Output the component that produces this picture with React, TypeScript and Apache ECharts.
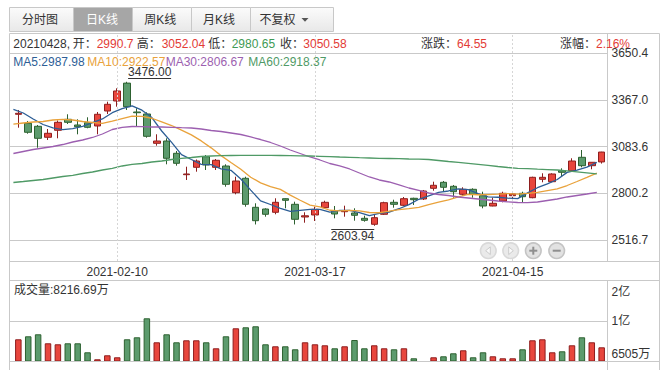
import { useEffect, useRef } from 'react';
import * as echarts from 'echarts';

const dates = ['2021-01-27','2021-01-28','2021-01-29','2021-02-01','2021-02-02','2021-02-03','2021-02-04','2021-02-05','2021-02-08','2021-02-09','2021-02-10','2021-02-18','2021-02-19','2021-02-22','2021-02-23','2021-02-24','2021-02-25','2021-02-26','2021-03-01','2021-03-02','2021-03-03','2021-03-04','2021-03-05','2021-03-08','2021-03-09','2021-03-10','2021-03-11','2021-03-12','2021-03-15','2021-03-16','2021-03-17','2021-03-18','2021-03-19','2021-03-22','2021-03-23','2021-03-24','2021-03-25','2021-03-26','2021-03-29','2021-03-30','2021-03-31','2021-04-01','2021-04-02','2021-04-06','2021-04-07','2021-04-08','2021-04-09','2021-04-12','2021-04-13','2021-04-14','2021-04-15','2021-04-16','2021-04-19','2021-04-20','2021-04-21','2021-04-22','2021-04-23','2021-04-26','2021-04-27','2021-04-28'];

// [open, close, low, high]
const candles: number[][] = [
  [3279.2, 3285.2, 3198.0, 3305.2], [3224.6, 3170.2, 3161.7, 3238.6], [3206.5, 3133.8, 3076.9, 3214.4],
  [3139.9, 3164.1, 3123.5, 3190.1], [3182.3, 3230.7, 3133.8, 3241.6], [3248.9, 3230.7, 3220.4, 3279.2],
  [3214.4, 3204.1, 3158.0, 3248.9], [3228.3, 3200.4, 3194.4, 3261.0], [3208.3, 3279.2, 3158.0, 3293.1],
  [3299.1, 3339.7, 3281.0, 3355.5], [3359.7, 3420.3, 3325.2, 3436.6], [3468.0, 3325.2, 3305.2, 3476.0],
  [3293.1, 3288.8, 3204.1, 3315.5], [3281.0, 3145.9, 3137.4, 3291.3], [3103.5, 3117.4, 3089.0, 3158.0],
  [3117.4, 3012.7, 2976.3, 3133.8], [3043.0, 2982.4, 2967.9, 3056.9], [2913.4, 2917.6, 2881.3, 2961.8],
  [2958.2, 2996.3, 2931.5, 3005.4], [3022.4, 2972.1, 2941.8, 3032.6], [2958.2, 3000.6, 2941.8, 3008.5],
  [2966.0, 2855.2, 2840.7, 2976.3], [2804.4, 2875.2, 2794.6, 2901.2], [2891.6, 2734.1, 2719.6, 2901.2],
  [2715.9, 2634.8, 2612.0, 2740.2], [2705.6, 2673.6, 2659.0, 2709.9], [2685.7, 2746.2, 2673.6, 2770.5],
  [2768.0, 2758.3, 2709.9, 2770.5], [2734.1, 2643.2, 2612.0, 2749.9], [2657.2, 2664.5, 2622.7, 2685.7],
  [2669.3, 2703.8, 2633.0, 2719.6], [2713.5, 2746.2, 2709.9, 2755.9], [2693.5, 2675.4, 2649.3, 2723.8],
  [2689.3, 2695.4, 2659.0, 2725.6], [2681.4, 2667.5, 2634.8, 2709.9], [2649.3, 2637.2, 2628.8, 2665.1],
  [2613.0, 2653.0, 2603.94, 2669.3], [2673.6, 2743.8, 2669.3, 2749.9], [2746.2, 2734.1, 2713.5, 2762.0],
  [2728.0, 2768.0, 2723.8, 2778.3], [2770.5, 2762.0, 2729.9, 2774.1], [2766.2, 2814.6, 2760.1, 2820.7],
  [2831.0, 2849.2, 2816.5, 2871.0], [2867.3, 2837.1, 2810.4, 2875.2], [2843.1, 2810.4, 2774.1, 2851.0],
  [2794.6, 2824.9, 2786.2, 2837.1], [2824.9, 2794.6, 2774.1, 2831.0], [2786.2, 2723.8, 2709.9, 2810.4],
  [2723.8, 2740.2, 2721.9, 2774.1], [2754.1, 2800.7, 2746.2, 2810.4], [2786.2, 2796.5, 2760.1, 2800.7],
  [2800.7, 2780.1, 2746.2, 2810.4], [2774.1, 2897.6, 2770.5, 2901.2], [2885.5, 2897.6, 2867.3, 2921.9],
  [2871.0, 2917.6, 2867.3, 2921.9], [2937.6, 2927.9, 2901.2, 2952.1], [2937.6, 2996.3, 2931.5, 3012.7],
  [3018.7, 2967.9, 2958.2, 3062.9], [2967.9, 2988.5, 2946.1, 2988.5], [2990.7, 3050.58, 2980.65, 3052.04],
];

const ma5 = [3309.4, 3287.0, 3250.7, 3217.4, 3196.8, 3185.9, 3192.7, 3206.0, 3229.0, 3250.8,
  3288.7, 3313.0, 3330.6, 3304.0, 3259.5, 3178.0, 3109.4, 3035.2, 3005.3, 2976.2,
  2973.8, 2948.4, 2939.9, 2887.4, 2820.0, 2754.6, 2732.8, 2709.4, 2691.2, 2697.2,
  2703.2, 2703.2, 2686.6, 2697.1, 2697.7, 2684.3, 2665.7, 2679.4, 2687.1, 2707.2,
  2732.2, 2764.5, 2785.6, 2806.2, 2814.7, 2827.2, 2823.2, 2798.2, 2778.8, 2776.8,
  2771.2, 2768.3, 2803.0, 2834.5, 2857.9, 2884.2, 2927.4, 2941.5, 2959.6, 2987.98];
const ma10 = [3219.2, 3226.5, 3232.5, 3235.5, 3244.6, 3248.9, 3244.6, 3235.5, 3229.5, 3223.8,
  3237.3, 3252.8, 3268.3, 3266.5, 3255.2, 3233.4, 3211.2, 3182.9, 3154.6, 3117.9,
  3075.9, 3028.9, 2987.5, 2946.4, 2898.1, 2864.2, 2840.6, 2824.6, 2789.3, 2758.6,
  2728.9, 2718.0, 2698.0, 2694.1, 2697.4, 2693.8, 2684.5, 2683.0, 2692.1, 2702.4,
  2708.3, 2715.1, 2732.5, 2746.7, 2760.9, 2779.7, 2793.9, 2791.9, 2792.5, 2795.8,
  2799.2, 2795.8, 2800.6, 2806.6, 2817.4, 2827.7, 2847.8, 2872.2, 2897.1, 2922.57];
const ma30 = [3041.8, 3053.9, 3066.0, 3075.1, 3084.1, 3096.2, 3111.4, 3123.5, 3138.7, 3159.9,
  3187.1, 3200.4, 3205.3, 3204.1, 3202.2, 3202.2, 3200.4, 3198.0, 3196.2, 3190.1,
  3181.0, 3175.0, 3165.9, 3156.8, 3141.7, 3126.5, 3108.4, 3087.2, 3063.0, 3041.8,
  3020.6, 3002.4, 2981.2, 2966.1, 2947.9, 2923.7, 2899.5, 2881.3, 2869.2, 2851.0,
  2832.8, 2817.7, 2802.6, 2793.5, 2787.4, 2778.4, 2772.3, 2766.2, 2760.2, 2754.1,
  2749.2, 2745.0, 2743.8, 2748.0, 2757.1, 2766.2, 2778.4, 2787.4, 2796.5, 2806.67];
const ma60 = [2866.1, 2872.1, 2878.2, 2884.3, 2893.4, 2902.4, 2909.7, 2920.6, 2929.7, 2941.8,
  2952.1, 2966.1, 2976.3, 2981.2, 2990.3, 2996.3, 3005.4, 3012.7, 3017.5, 3023.6,
  3026.6, 3028.4, 3029.6, 3030.8, 3030.8, 3030.8, 3030.2, 3029.6, 3029.0, 3027.8,
  3026.6, 3024.8, 3023.0, 3020.6, 3018.8, 3016.3, 3014.5, 3012.7, 3011.5, 3010.3,
  3008.5, 3007.2, 3005.4, 2999.4, 2993.3, 2988.5, 2982.4, 2976.3, 2970.3, 2963.0,
  2957.0, 2952.1, 2949.7, 2946.7, 2944.2, 2941.8, 2937.0, 2930.9, 2924.9, 2918.37];

// volume in 万
const volumes = [9218, 9593, 9843, 8718, 8593, 8718, 8718, 7593, 6718, 7218,
  6968, 9218, 9468, 11843, 8843, 9843, 8843, 9093, 9093, 8843,
  8093, 9593, 10593, 10718, 10843, 8593, 8343, 8343, 7968, 8843,
  8593, 8468, 8093, 8343, 9130, 8093, 8468, 8093, 7968, 8093,
  6843, 6543, 6968, 7093, 7468, 7843, 6968, 7593, 7093, 6843,
  6843, 7968, 9093, 9218, 7593, 7718, 8468, 9468, 8843, 8216.69];

const priceTicks = ['2516.7', '2800.2', '3083.6', '3367.0', '3650.4'];
const volTicks = ['6505万', '1亿', '2亿'];
const dateLabels = ['2021-02-10', '2021-03-17', '2021-04-15'];
const tabNames = ['分时图', '日K线', '周K线', '月K线', '不复权'];
const infoDate = '20210428,';
const infoLabels = ['开：', '高：', '低：', '收：', '涨跌：', '涨幅：'];
const infoValues = ['2990.7', '3052.04', '2980.65', '3050.58', '64.55', '2.16%'];
const infoTone = ['r', 'r', 'g', 'r', 'r', 'r'];
const maNames = ['MA5', 'MA10', 'MA30', 'MA60'];
const maLast = ['2987.98', '2922.57', '2806.67', '2918.37'];
const volumeLegend = '成交量:8216.69万';

const PRICE_MIN = 2390.7;
const PRICE_MAX = 3771.5;
const VOL_MIN = 6505;
const VOL_MAX = 16630;

const FONT_FAMILY = '"Liberation Sans", Arial, "Noto Sans CJK SC", sans-serif';
const F12 = `12px ${FONT_FAMILY}`;
const TEXT = '#333333';
const GRID = '#c9c9c9';
const UP = '#e8463d';
const UP_B = '#8e1e1e';
const DN = '#5c9b6d';
const DN_B = '#2d6130';
const RED_T = '#e33b36';
const GREEN_T = '#3f9a55';
const MA_COLORS = ['#2d5e96', '#e9a23b', '#9c5fb0', '#4f9a66'];

function txt(id: string, text: string, x: number, y: number, fill: string, align = 'left', extra: any = {}) {
  return {
    type: 'text', id, z: 100, silent: true,
    style: { text, x, y, fill, font: F12, fontSize: 12, fontFamily: FONT_FAMILY, align, verticalAlign: 'middle', textAlign: align, textVerticalAlign: 'middle', ...extra },
  };
}
function ln(id: string, x1: number, y1: number, x2: number, y2: number, stroke = GRID, extra: any = {}) {
  return { type: 'line', id, z: 90, silent: true, shape: { x1, y1, x2, y2 }, style: { stroke, lineWidth: 1, ...extra } };
}

function buildGraphic(hp: number[], hv: string, lp: number[], lv: string) {
  const g: any[] = [];
  // tabs
  const tabX = [9.5, 73.5, 132.5, 191.5, 250.5, 333.5];
  const tabTextX = [40, 102, 160.3, 219, 277.5];
  tabNames.forEach((name, i) => {
    const sel = i === 1;
    g.push({
      type: 'rect', id: 'tab' + i, z: 80, silent: true,
      shape: { x: tabX[i], y: 7.5, width: tabX[i + 1] - tabX[i], height: 24 },
      style: {
        fill: sel ? '#a6a6a6' : { type: 'linear', x: 0, y: 0, x2: 0, y2: 1, colorStops: [{ offset: 0, color: '#fbfbfb' }, { offset: 1, color: '#e8e8e8' }] },
        stroke: '#c8c8c8', lineWidth: 1,
      },
    });
    g.push(txt('tabt' + i, name, tabTextX[i], 20, sel ? '#ffffff' : TEXT, 'center'));
  });
  g.push({ type: 'polygon', id: 'tabtri', z: 100, silent: true, shape: { points: [[301.5, 18], [308.5, 18], [305, 21.8]] }, style: { fill: '#555555' } });

  // info line: each label / value placed where the reference shows it
  const labelX = [72.7, 136.7, 208.3, 280, 421, 560];
  const valueX = [96.7, 161.7, 231.7, 303.3, 457, 596];
  g.push(txt('infod', infoDate, 13.3, 43.5, TEXT));
  infoLabels.forEach((l, i) => {
    g.push(txt('infol' + i, l, labelX[i], 43.5, TEXT));
    g.push(txt('infov' + i, infoValues[i], valueX[i], 43.5, infoTone[i] === 'g' ? GREEN_T : RED_T));
  });

  // MA legend
  const maX = [13.3, 87.3, 165.7, 248.3];
  maNames.forEach((n, i) => g.push(txt('ma' + i, `${n}:${maLast[i]}`, maX[i], 61.5, MA_COLORS[i])));

  // volume legend
  g.push(txt('vleg', volumeLegend, 14, 290, TEXT));

  // frame
  g.push(ln('f1', 9.5, 33.5, 659.5, 33.5));
  g.push(ln('f2', 9.5, 33.5, 9.5, 370));
  g.push(ln('f3', 659.5, 33.5, 659.5, 370));
  g.push(ln('f4', 607.5, 33.5, 607.5, 261.5));
  g.push(ln('f5', 607.5, 280.5, 607.5, 370));
  g.push(ln('f6', 9.5, 261.5, 659.5, 261.5));
  g.push(ln('f7', 9.5, 280.5, 659.5, 280.5));
  g.push(ln('f8', 9.5, 361.5, 659.5, 361.5));

  // zoom buttons
  const bx = [488.3, 510.7, 533.3, 556.7];
  const by = 250.7;
  bx.forEach((x, i) => {
    const dis = i < 2;
    g.push({ type: 'circle', id: 'bo' + i, z: 95, silent: true, shape: { cx: x, cy: by, r: 8.6 }, style: { fill: dis ? '#d9d9d9' : '#c4c4c4' } });
    g.push({ type: 'circle', id: 'bi' + i, z: 96, silent: true, shape: { cx: x, cy: by, r: 7 }, style: { fill: dis ? '#eaeaea' : '#e2e2e2' } });
  });
  g.push({ type: 'polygon', id: 'bg0', z: 97, silent: true, shape: { points: [[bx[0] + 2, by - 3.8], [bx[0] + 2, by + 3.8], [bx[0] - 2.6, by]] }, style: { fill: '#fafafa', stroke: '#c2c2c2', lineWidth: 0.8 } });
  g.push({ type: 'polygon', id: 'bg1', z: 97, silent: true, shape: { points: [[bx[1] - 2, by - 3.8], [bx[1] - 2, by + 3.8], [bx[1] + 2.6, by]] }, style: { fill: '#fafafa', stroke: '#c2c2c2', lineWidth: 0.8 } });
  g.push({ type: 'rect', id: 'bg2a', z: 97, silent: true, shape: { x: bx[2] - 4, y: by - 1, width: 8, height: 2 }, style: { fill: '#8f8f8f' } });
  g.push({ type: 'rect', id: 'bg2b', z: 97, silent: true, shape: { x: bx[2] - 1, y: by - 4, width: 2, height: 8 }, style: { fill: '#8f8f8f' } });
  g.push({ type: 'rect', id: 'bg3', z: 97, silent: true, shape: { x: bx[3] - 4, y: by - 1, width: 8, height: 2 }, style: { fill: '#8f8f8f' } });

  // max / min annotations
  g.push(txt('maxt', hv, hp[0] + 1, hp[1] - 9.5, TEXT));
  g.push(ln('maxl', hp[0] + 1, Math.round(hp[1] - 4) + 0.5, hp[0] + 44, Math.round(hp[1] - 4) + 0.5, '#333333'));
  g.push(txt('mint', lv, lp[0], lp[1] + 9.8, TEXT, 'right'));
  g.push(ln('minl', lp[0] - 43, Math.round(lp[1] + 3) + 0.5, lp[0], Math.round(lp[1] + 3) + 0.5, '#333333'));
  return g;
}

function buildOption(): any {
  const volData = volumes.map((v, i) => {
    const up = candles[i][1] >= candles[i][0];
    return { value: v, itemStyle: { color: up ? UP : DN, borderColor: up ? UP_B : DN_B, borderWidth: 1 } };
  });
  return {
    animation: false,
    backgroundColor: '#ffffff',
    textStyle: { fontFamily: FONT_FAMILY },
    grid: [
      { left: 9.5, right: 58.5, top: 53, height: 187.2 },
      { left: 13.4, right: 59.4, top: 33, bottom: 109 },
      { left: 13.4, right: 69.2, top: 33, bottom: 109 },
      { left: 9.5, right: 58.5, top: 280.5, bottom: 8.5 },
      { left: 13.4, right: 59.4, top: 280, bottom: 9 },
    ],
    xAxis: [
      { type: 'value', gridIndex: 0, show: false, min: 0, max: 1 },
      {
        type: 'category', gridIndex: 1, data: dates, boundaryGap: true,
        axisLine: { show: false }, axisTick: { show: false }, splitLine: { show: false },
        axisLabel: {
          interval: (_i: number, v: string) => dateLabels.indexOf(v) >= 0,
          color: TEXT, fontSize: 12, fontFamily: FONT_FAMILY, margin: 5,
        },
      },
      { type: 'category', gridIndex: 2, data: dates, boundaryGap: false, show: false },
      { type: 'value', gridIndex: 3, show: false, min: 0, max: 1 },
      { type: 'category', gridIndex: 4, data: dates, boundaryGap: true, show: false },
    ],
    yAxis: [
      {
        type: 'value', gridIndex: 0, position: 'right', min: 0, max: 4, interval: 1,
        axisLine: { show: false },
        axisTick: { show: true, length: 4, lineStyle: { color: GRID } },
        splitLine: { show: true, lineStyle: { color: GRID, width: 1 } },
        axisLabel: {
          margin: 4, color: TEXT, fontSize: 12, fontFamily: FONT_FAMILY,
          formatter: (v: number) => priceTicks[Math.round(v)] ?? '',
        },
      },
      { type: 'value', gridIndex: 1, min: PRICE_MIN, max: PRICE_MAX, show: false, splitLine: { show: false } },
      { type: 'value', gridIndex: 2, min: PRICE_MIN, max: PRICE_MAX, show: false, splitLine: { show: false } },
      {
        type: 'value', gridIndex: 3, position: 'right', min: 0, max: 2, interval: 1,
        axisLine: { show: false },
        axisTick: { show: true, length: 4, lineStyle: { color: GRID } },
        splitLine: { show: true, lineStyle: { color: GRID, width: 1 } },
        axisLabel: {
          margin: 4, color: TEXT, fontSize: 12, fontFamily: FONT_FAMILY,
          formatter: (v: number) => {
            const i = Math.round(v);
            if (i === 2) return `{t|${volTicks[2]}}`;
            if (i === 0) return `{b|${volTicks[0]}}`;
            return volTicks[1];
          },
          rich: {
            t: { padding: [23, 0, 0, 0], fontSize: 12, fontFamily: FONT_FAMILY, color: TEXT },
            b: { padding: [0, 0, 16, 0], fontSize: 12, fontFamily: FONT_FAMILY, color: TEXT },
          },
        },
      },
      { type: 'value', gridIndex: 4, min: VOL_MIN, max: VOL_MAX, show: false, splitLine: { show: false } },
    ],
    series: [
      {
        type: 'candlestick', xAxisIndex: 1, yAxisIndex: 1, data: candles, barWidth: 7, z: 2,
        itemStyle: { color: UP, color0: DN, borderColor: UP_B, borderColor0: DN_B, borderWidth: 1 },
        markLine: {
          silent: true, symbol: ['none', 'none'], label: { show: false },
          lineStyle: { color: '#d6d6d6', type: [2, 2], width: 1 },
          data: dateLabels.map((d) => ({ xAxis: d })),
        },
      },
      ...[ma5, ma10, ma30, ma60].map((d, i) => ({
        type: 'line', name: maNames[i], xAxisIndex: 2, yAxisIndex: 2, data: d, symbol: 'none', z: 4,
        lineStyle: { color: MA_COLORS[i], width: 1.3 }, silent: true,
      })),
      {
        type: 'bar', xAxisIndex: 4, yAxisIndex: 4, data: volData, barWidth: 6.5, clip: true,
      },
    ],
  };
}

export default function App() {
  const ref = useRef<HTMLDivElement>(null);
  useEffect(() => {
    const el = ref.current;
    if (!el) return;
    const chart = echarts.init(el, null, { renderer: 'svg' });
    chart.setOption(buildOption());
    const highs = candles.map((c) => c[3]);
    const lows = candles.map((c) => c[2]);
    const maxIdx = highs.indexOf(Math.max(...highs));
    const minIdx = lows.indexOf(Math.min(...lows));
    const hp = chart.convertToPixel({ xAxisIndex: 1, yAxisIndex: 1 }, [maxIdx, highs[maxIdx]]) as unknown as number[];
    const lp = chart.convertToPixel({ xAxisIndex: 1, yAxisIndex: 1 }, [minIdx, lows[minIdx]]) as unknown as number[];
    chart.setOption({ graphic: buildGraphic(hp, highs[maxIdx].toFixed(2), lp, lows[minIdx].toFixed(2)) });
    return () => chart.dispose();
  }, []);
  return <div ref={ref} style={{ position: 'fixed', left: 0, top: 0, width: 666, height: 370, background: '#fff' }} />;
}
